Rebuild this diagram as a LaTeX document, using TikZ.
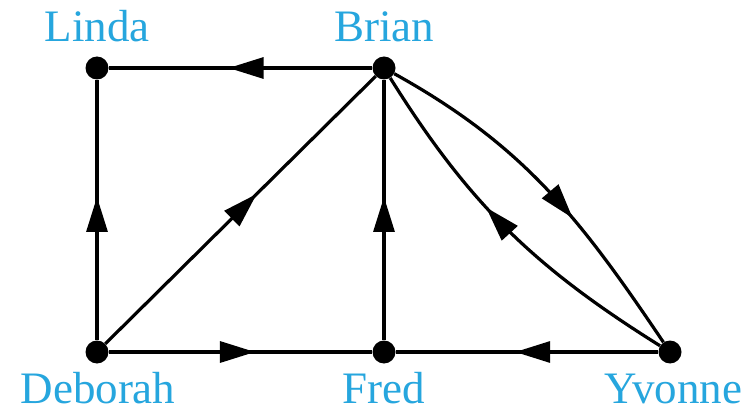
\documentclass[tikz,border=0pt]{standalone}
\usepackage{fontspec}
\setmainfont{Liberation Serif}
\usetikzlibrary{arrows.meta,decorations.markings}
\definecolor{labelcyan}{RGB}{38,166,222}
\begin{document}
\begin{tikzpicture}[x=1pt,y=1pt,
  dot/.style={circle,fill=black,inner sep=0pt,minimum size=23pt},
  lbl/.style={anchor=base,text=labelcyan,inner sep=0pt,font=\fontsize{45}{54}\selectfont},
  edge/.style={line width=3.2pt,black},
  midarrow/.style={postaction={decorate},decoration={markings,
    mark=at position #1 with {\arrow{Triangle[length=35pt,width=21pt]}}}}]
\fill[white] (0,0) rectangle (753,413);
\useasboundingbox (0,0) rectangle (753,413);
% vertices
\node[dot] (L) at (97,345) {};
\node[dot] (B) at (384,345) {};
\node[dot] (D) at (97,61) {};
\node[dot] (F) at (384,61) {};
\node[dot] (Y) at (670,61) {};
% labels
\node[lbl] (tL) at (97,371) {Linda};
\node[lbl] (tB) at (384,371) {Brian};
\node[lbl] (tD) at (98,10) {Deborah};
\node[lbl] (tF) at (384,10) {Fred};
\node[lbl] (tY) at (673,10) {Yvonne};
% edges
\draw[edge,midarrow=0.545] (B) -- (L);
\draw[edge,midarrow=0.55] (D) -- (L);
\draw[edge,midarrow=0.56] (D) -- (B);
\draw[edge,midarrow=0.55] (F) -- (B);
\draw[edge,midarrow=0.555] (D) -- (F);
\draw[edge,midarrow=0.545] (Y) -- (F);
\draw[edge,midarrow=0.6] (B) to[out=-29,in=124] (Y);
\draw[edge,midarrow=0.58] (Y) to[out=148,in=-58] (B);
\end{tikzpicture}
\end{document}
